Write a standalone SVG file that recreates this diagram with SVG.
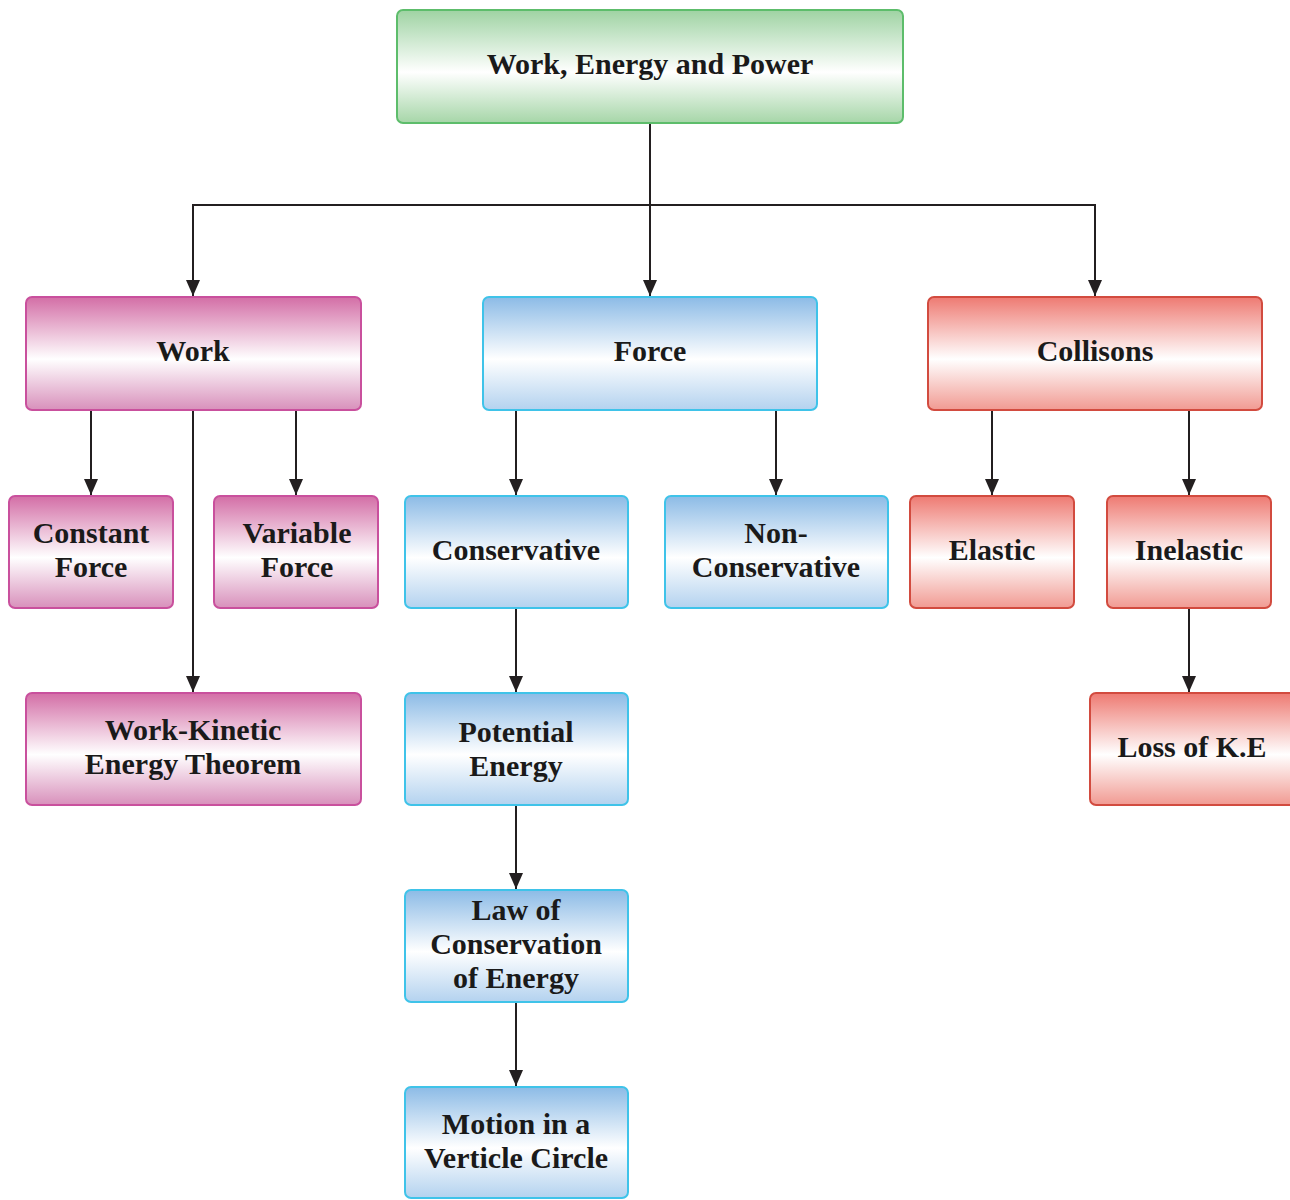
<svg xmlns="http://www.w3.org/2000/svg" width="1290" height="1200" viewBox="0 0 1290 1200">
<defs>
<linearGradient id="gG" x1="0" y1="0" x2="0" y2="1">
<stop offset="0" stop-color="#9fd3a3"/><stop offset="0.55" stop-color="#ffffff"/><stop offset="1" stop-color="#a6d6a8"/>
</linearGradient>
<linearGradient id="gP" x1="0" y1="0" x2="0" y2="1">
<stop offset="0" stop-color="#d36ea6"/><stop offset="0.55" stop-color="#ffffff"/><stop offset="1" stop-color="#d890bb"/>
</linearGradient>
<linearGradient id="gB" x1="0" y1="0" x2="0" y2="1">
<stop offset="0" stop-color="#8cbbe6"/><stop offset="0.55" stop-color="#ffffff"/><stop offset="1" stop-color="#b3d2ef"/>
</linearGradient>
<linearGradient id="gR" x1="0" y1="0" x2="0" y2="1">
<stop offset="0" stop-color="#ee7a72"/><stop offset="0.55" stop-color="#ffffff"/><stop offset="1" stop-color="#f19a92"/>
</linearGradient>
<marker id="arr" viewBox="0 0 16 14" refX="16" refY="7" markerWidth="16" markerHeight="14" markerUnits="userSpaceOnUse" orient="auto">
<path d="M0,0 L16,7 L0,14 Z" fill="#231f20"/>
</marker>
</defs>
<style>
.n rect{stroke-width:2}
.g rect{fill:url(#gG);stroke:#5dbd6b}
.p rect{fill:url(#gP);stroke:#c9509d}
.b rect{fill:url(#gB);stroke:#3fc3e9}
.r rect{fill:url(#gR);stroke:#d24b3f}
text{font-family:"Liberation Serif","DejaVu Serif",serif;font-weight:bold;font-size:30px;fill:#1a1a1a;text-anchor:middle}
.c path{fill:none;stroke:#231f20;stroke-width:2}
.c .a{marker-end:url(#arr)}
</style>
<g class="c" id="connectors">
<path d="M650,123 V205"/>
<path class="a" d="M650,205 V296"/>
<path class="a" d="M650,205 H193 V296"/>
<path class="a" d="M650,205 H1095 V296"/>
<path class="a" d="M91,410 V495"/>
<path class="a" d="M193,410 V692"/>
<path class="a" d="M296,410 V495"/>
<path class="a" d="M516,410 V495"/>
<path class="a" d="M776,410 V495"/>
<path class="a" d="M992,410 V495"/>
<path class="a" d="M1189,410 V495"/>
<path class="a" d="M516,608 V692"/>
<path class="a" d="M516,805 V889"/>
<path class="a" d="M516,1002 V1086"/>
<path class="a" d="M1189,608 V692"/>
</g>
<g class="n g" id="n-root"><rect x="397" y="10" width="506" height="113" rx="6"/><text x="650" y="74">Work, Energy and Power</text></g>
<g class="n p" id="n-work"><rect x="26" y="297" width="335" height="113" rx="6"/><text x="193" y="361">Work</text></g>
<g class="n b" id="n-force"><rect x="483" y="297" width="334" height="113" rx="6"/><text x="650" y="361">Force</text></g>
<g class="n r" id="n-coll"><rect x="928" y="297" width="334" height="113" rx="6"/><text x="1095" y="361">Collisons</text></g>
<g class="n p" id="n-const"><rect x="9" y="496" width="164" height="112" rx="6"/><text x="91" y="543">Constant</text><text x="91" y="577">Force</text></g>
<g class="n p" id="n-var"><rect x="214" y="496" width="164" height="112" rx="6"/><text x="297" y="543">Variable</text><text x="297" y="577">Force</text></g>
<g class="n p" id="n-wke"><rect x="26" y="693" width="335" height="112" rx="6"/><text x="193" y="740">Work-Kinetic</text><text x="193" y="774">Energy Theorem</text></g>
<g class="n b" id="n-cons"><rect x="405" y="496" width="223" height="112" rx="6"/><text x="516" y="560">Conservative</text></g>
<g class="n b" id="n-noncons"><rect x="665" y="496" width="223" height="112" rx="6"/><text x="776" y="543">Non-</text><text x="776" y="577">Conservative</text></g>
<g class="n r" id="n-elastic"><rect x="910" y="496" width="164" height="112" rx="6"/><text x="992" y="560">Elastic</text></g>
<g class="n r" id="n-inelastic"><rect x="1107" y="496" width="164" height="112" rx="6"/><text x="1189" y="560">Inelastic</text></g>
<g class="n r" id="n-loss"><rect x="1090" y="693" width="220" height="112" rx="6"/><text x="1192" y="757">Loss of K.E</text></g>
<g class="n b" id="n-pe"><rect x="405" y="693" width="223" height="112" rx="6"/><text x="516" y="742">Potential</text><text x="516" y="776">Energy</text></g>
<g class="n b" id="n-law"><rect x="405" y="890" width="223" height="112" rx="6"/><text x="516" y="920">Law of</text><text x="516" y="954">Conservation</text><text x="516" y="988">of Energy</text></g>
<g class="n b" id="n-motion"><rect x="405" y="1087" width="223" height="111" rx="6"/><text x="516" y="1134">Motion in a</text><text x="516" y="1168">Verticle Circle</text></g>
</svg>
